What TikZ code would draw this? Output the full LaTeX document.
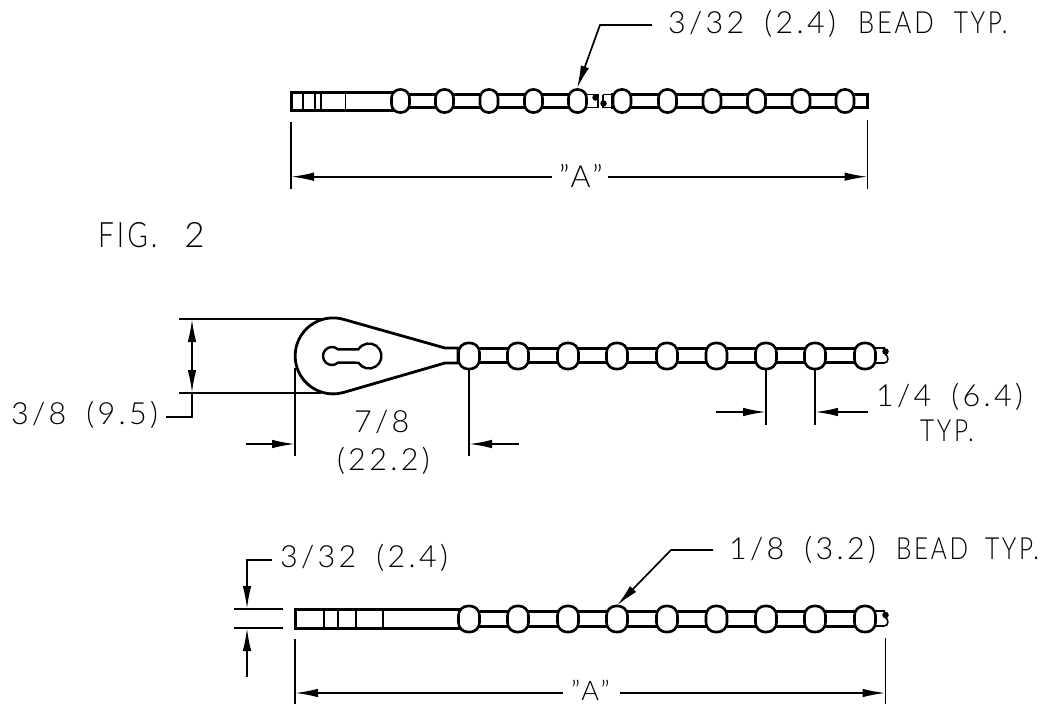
\documentclass[tikz,border=0pt]{standalone}
\usepackage{fontspec}
\setmainfont{Lato Light}
\newfontfamily\cad[LetterSpace=11]{Lato Light}
\usetikzlibrary{arrows.meta}
\newcommand{\wsp}{\hspace{20pt}}
\newcommand{\capw}[1]{\scalebox{0.8}[1]{#1}}
\newcommand{\capb}[1]{\scalebox{0.84}[1]{#1}}
\tikzset{
  txt/.style={anchor=base west,inner sep=0pt,outer sep=0pt,text=black,font=\cad\fontsize{30.5}{30.5}\selectfont},
  bead/.style={draw,fill=white,line width=2.6pt,rounded corners=9.5pt,inner sep=0pt,outer sep=0pt},
  bodyline/.style={line width=3pt},
  thinbar/.style={line width=1.5pt},
  rod/.style={draw,fill=white,line width=3pt},
  stub/.style={draw,line width=1.6pt},
  dimline/.style={line width=1.7pt},
  head/.style={-{Latex[length=23pt,width=8.5pt]},line width=1.7pt},
  blob/.style={fill=black,circle,inner sep=0pt,minimum size=6.5pt},
}
\begin{document}
\begin{tikzpicture}[x=1pt,y=-1pt]
\useasboundingbox[fill=white] (0,0) rectangle (1053,704);
% ===== top strip =====
\draw[rod] (392,94.5) rectangle (585,107.5);
\draw[rod] (612,94.5) rectangle (867,107.5);
\draw[stub] (585,94.5) rectangle (598,107.5);
\draw[stub] (603,94.5) -- (613,94.5) (603,107.5) -- (613,107.5) (603,94.5) -- (603,107.5);
\node[blob] (ta) at (595.5,97.5) {};
\node[blob] (tb) at (603.5,103.5) {};
\draw[bodyline,fill=white] (291,92) rectangle (392,110.5);
\foreach \x in {303,315,321,345.5} \draw[thinbar] (\x,92) -- (\x,110.5);
\foreach \x/\n in {400.5/1,444.5/2,489/3,533.5/4,577.5/5,622/6,667.5/7,712/8,756.5/9,801/10,845/11}
  \node[bead,minimum width=18pt,minimum height=23pt,rounded corners=8.5pt] (t\n) at (\x,101) {};
% top dimensions
\coordinate (tl1) at (291,122); \coordinate (tl2) at (291,189);
\coordinate (tr1) at (867.5,120); \coordinate (tr2) at (867.5,189);
\draw[dimline] (tl1) -- (tl2); \draw[dimline] (tr1) -- (tr2);
\coordinate (tal) at (291,176.7); \coordinate (tar) at (867.5,176.7);
\coordinate (tas) at (552,176.7); \coordinate (tae) at (608,176.7);
\draw[head] (tas) -- (tal); \draw[head] (tae) -- (tar);
\node[txt] (tA) at (559,187) {”A”};
\coordinate (tlead1) at (652,25); \coordinate (tlead2) at (600,25); \coordinate (tlead3) at (577,88.5);
\draw[head] (tlead1) -- (tlead2) -- (tlead3);
\node[txt] (tBead) at (668,34) {3/32\wsp (2.4)\hspace{22pt}\capb{BEAD}\wsp\capw{TYP.}};
\node[txt,font=\cad\fontsize{35}{35}\selectfont] (fig) at (98,247) {\capw{FIG.}\hspace{27pt}2};
% ===== middle strip =====
\draw[rod] (445,348.5) rectangle (865,362.5);
\draw[line width=2.8pt,fill=white,line join=round] (445,348) -- (343,319.2) arc[start angle=75,end angle=285,radius=38pt] -- (445,363) -- (458,363) -- (458,348) -- cycle;
\draw[line width=2.4pt] (338,349.3) arc[start angle=48,end angle=312,radius=9pt] -- (358.4,362.7) arc[start angle=212.4,end angle=507.6,radius=12.5pt] -- cycle;
\foreach \x/\n in {469/1,518/2,568/3,617/4,667/5,716.5/6,766/7,815/8,865/9}
  \node[bead,minimum width=21pt,minimum height=26pt] (m\n) at (\x,356) {};
\draw[stub] (875,348) -- (885,348) (875,363) -- (884,363) .. controls (889,363) and (889,356) .. (885,354);
\node[blob] (mb) at (885.5,351.5) {};
% middle dims
\coordinate (h1a) at (179,319); \coordinate (h1b) at (321,319);
\coordinate (h2a) at (179,393); \coordinate (h2b) at (321,393);
\draw[dimline] (h1a) -- (h1b); \draw[dimline] (h2a) -- (h2b);
\coordinate (v1) at (192,319); \coordinate (v2) at (192,393); \coordinate (v3) at (192,356); \coordinate (v4) at (192,417); \coordinate (v5) at (166,417);
\draw[head] (v3) -- (v1); \draw[head] (v3) -- (v2);
\draw[dimline] (v2) -- (v4) -- (v5);
\node[txt] (t38) at (11,424) {3/8\wsp (9.5)};
\coordinate (e1a) at (295,368); \coordinate (e1b) at (295,456);
\coordinate (e2a) at (469,369); \coordinate (e2b) at (469,456);
\draw[dimline] (e1a) -- (e1b); \draw[dimline] (e2a) -- (e2b);
\coordinate (a1) at (246,444); \coordinate (a2) at (295,444); \coordinate (a3) at (519,444); \coordinate (a4) at (469,444);
\draw[head] (a1) -- (a2); \draw[head] (a3) -- (a4);
\node[txt] (t78) at (354,432) {7/8};
\node[txt] (t222) at (337,470) {(22.2)};
\coordinate (e3b) at (766,425); \coordinate (e4b) at (815,425);
\draw[dimline] (m7.south) -- (e3b); \draw[dimline] (m8.south) -- (e4b);
\coordinate (b1) at (716,412); \coordinate (b2) at (766,412); \coordinate (b3) at (868,412); \coordinate (b4) at (815,412);
\draw[head] (b1) -- (b2); \draw[head] (b3) -- (b4);
\node[txt] (t14) at (876,406) {1/4\wsp (6.4)};
\node[txt] (ttyp) at (920,441) {\capw{TYP.}};
% ===== bottom strip =====
\draw[rod] (460,611) rectangle (865,626);
\draw[bodyline,fill=white] (295,609.5) rectangle (460,628);
\foreach \x in {324,338,356,383} \draw[thinbar] (\x,609.5) -- (\x,628);
\foreach \x/\n in {469/1,518/2,568/3,617/4,667/5,716.5/6,766/7,815/8,865/9}
  \node[bead,minimum width=21pt,minimum height=26pt] (b\n) at (\x,619) {};
\draw[stub] (875,611) -- (885,611) (875,626) -- (884,626) .. controls (889,626) and (889,619) .. (885,617);
\node[blob] (bb) at (885.5,615) {};
% bottom dims
\coordinate (s1a) at (234,609); \coordinate (s1b) at (283,609);
\coordinate (s2a) at (234,628); \coordinate (s2b) at (283,628);
\draw[dimline] (s1a) -- (s1b); \draw[dimline] (s2a) -- (s2b);
\coordinate (c1) at (272,560); \coordinate (c2) at (247,560); \coordinate (c3) at (247,609); \coordinate (c4) at (247,677); \coordinate (c5) at (247,628);
\draw[head] (c1) -- (c2) -- (c3); \draw[head] (c4) -- (c5);
\node[txt] (t332) at (280,567) {3/32\wsp (2.4)};
\coordinate (bl1) at (295,639); \coordinate (bl2) at (295,704);
\coordinate (br1) at (885.5,638); \coordinate (br2) at (885.5,704);
\draw[dimline] (bl1) -- (bl2); \draw[dimline] (br1) -- (br2);
\coordinate (bas) at (563,693); \coordinate (bae) at (620,693); \coordinate (bal) at (295,693); \coordinate (bar) at (885.5,693);
\draw[head] (bas) -- (bal); \draw[head] (bae) -- (bar);
\node[txt,font=\cad\fontsize{27}{27}\selectfont] (bA) at (571,700) {”A”};
\coordinate (l1) at (713,550); \coordinate (l2) at (671,550); \coordinate (l3) at (617,605.5);
\draw[head] (l1) -- (l2) -- (l3);
\node[txt] (bBead) at (729,559) {1/8\wsp (3.2)\wsp\capw{BEAD}\hspace{17pt}\capw{TYP.}};
\end{tikzpicture}
\end{document}
